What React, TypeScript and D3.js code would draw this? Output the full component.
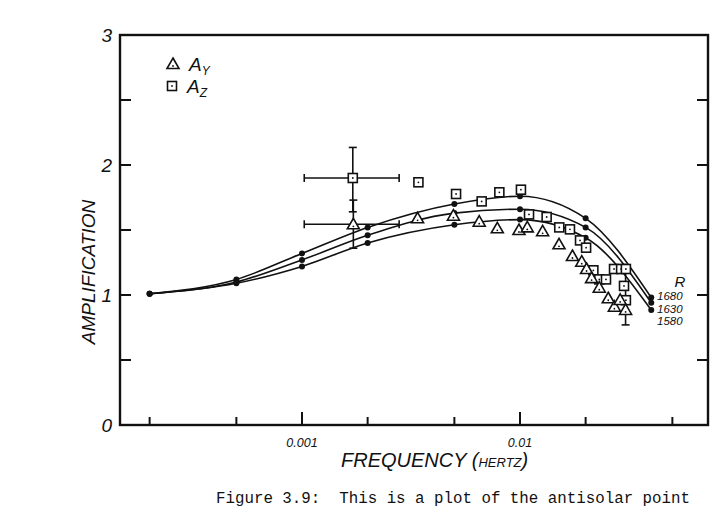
import * as d3 from 'd3';

// theory curves (dots joined by smooth lines), one per R value
const curveFreq = [0.0002, 0.0005, 0.001, 0.002, 0.005, 0.01, 0.02, 0.04];
const curve1680 = [1.01, 1.12, 1.32, 1.52, 1.70, 1.76, 1.59, 0.98];
const curve1630 = [1.01, 1.10, 1.27, 1.46, 1.63, 1.66, 1.52, 0.94];
const curve1580 = [1.01, 1.09, 1.22, 1.40, 1.54, 1.58, 1.44, 0.885];
const curveLabels = ['1680', '1630', '1580'];

// measured A_Y (triangles)
const ayFreq = [0.00172, 0.00339, 0.00495, 0.0065, 0.00787, 0.00989, 0.0108, 0.0127, 0.0151, 0.0174, 0.0192, 0.0202, 0.0213, 0.0231, 0.0254, 0.0271, 0.0288, 0.0305];
const ayVal = [1.544, 1.59, 1.61, 1.564, 1.513, 1.5, 1.52, 1.49, 1.39, 1.3, 1.256, 1.2, 1.13, 1.056, 0.975, 0.91, 0.962, 0.885];

// measured A_Z (squares)
const azFreq = [0.00171, 0.00342, 0.00509, 0.00667, 0.00804, 0.0101, 0.011, 0.01325, 0.01514, 0.01695, 0.01885, 0.0201, 0.0217, 0.0231, 0.0248, 0.027, 0.0291, 0.0306, 0.030, 0.0306];
const azVal = [1.9, 1.867, 1.777, 1.72, 1.79, 1.81, 1.62, 1.6, 1.52, 1.505, 1.42, 1.364, 1.19, 1.12, 1.12, 1.2, 1.2, 1.2, 1.07, 0.96];

// error bars: [freq, value, freqLo, freqHi, valLo, valHi]
const errorBars: number[][] = [
  [0.00171, 1.9, 0.001024, 0.00279, 1.64, 2.135],
  [0.00172, 1.544, 0.001024, 0.00279, 1.36, 1.73],
  [0.0305, 0.885, 0.0305, 0.0305, 0.77, 1.21],
];

const xMinorTicks = [0.0002, 0.0005, 0.002, 0.005, 0.02, 0.05];
const xMajorTicks = [0.001, 0.01];
const xTickLabels = ['0.001', '0.01'];
const yTicks = [0.5, 1, 1.5, 2, 2.5];
const yTickLabels = ['0', '1', '2', '3'];

const W = 723;
const H = 510;
const left = 120, right = 708, top = 35, bottom = 425;

const x = d3.scaleLog().domain([Math.pow(10, -3 - 182 / 218), Math.pow(10, -2 + 188 / 218)]).range([left, right]);
const y = d3.scaleLinear().domain([0, 3]).range([bottom, top]);

const hand = "'Liberation Sans', Arial, sans-serif";

const Triangle = ({ cx, cy }: { cx: number; cy: number }) => {
  const s = 6;
  const pts = `${cx},${cy - s} ${cx + s},${cy + s * 0.75} ${cx - s},${cy + s * 0.75}`;
  return (
    <g>
      <polygon points={pts} fill="#fff" stroke="#111" strokeWidth={1.6} strokeLinejoin="miter" />
      <circle cx={cx} cy={cy + 2} r={0.9} fill="#111" />
    </g>
  );
};

const Square = ({ cx, cy }: { cx: number; cy: number }) => (
  <g>
    <rect x={cx - 4.5} y={cy - 4.5} width={9} height={9} fill="#fff" stroke="#111" strokeWidth={1.6} />
    <circle cx={cx} cy={cy} r={0.9} fill="#111" />
  </g>
);

export default function App() {
  const line = d3
    .line<number>()
    .x((_, i) => x(curveFreq[i]))
    .y((d) => y(d))
    .curve(d3.curveMonotoneX);

  const curves = [curve1680, curve1630, curve1580];
  const cap = 4;

  return (
    <svg width={W} height={H} style={{ position: 'absolute', left: 0, top: 0, background: '#fff' }}>
      <rect x={0} y={0} width={W} height={H} fill="#fff" />

      {/* frame */}
      <rect x={left} y={top} width={right - left} height={bottom - top} fill="none" stroke="#111" strokeWidth={2.4} />

      {/* y ticks, both sides, pointing inward */}
      {yTicks.map((t) => (
        <g key={`yt${t}`} stroke="#111" strokeWidth={2}>
          <line x1={left} x2={left + 11} y1={y(t)} y2={y(t)} />
          <line x1={right} x2={right - 11} y1={y(t)} y2={y(t)} />
        </g>
      ))}
      {yTickLabels.map((l, i) => (
        <text key={`yl${l}`} x={left - 8} y={y(i) + 7} fontFamily={hand} fontStyle="italic" fontSize={19} textAnchor="end" fill="#111">
          {l}
        </text>
      ))}

      {/* x ticks */}
      {xMinorTicks.map((t) => (
        <line key={`xm${t}`} x1={x(t)} x2={x(t)} y1={bottom} y2={bottom - 8} stroke="#111" strokeWidth={2} />
      ))}
      {xMajorTicks.map((t, i) => (
        <g key={`xM${t}`}>
          <line x1={x(t)} x2={x(t)} y1={bottom} y2={bottom - 13} stroke="#111" strokeWidth={2} />
          <text x={x(t)} y={bottom + 22} fontFamily={hand} fontStyle="italic" fontSize={12.5} textAnchor="middle" fill="#111">
            {xTickLabels[i]}
          </text>
        </g>
      ))}

      {/* axis titles */}
      <text x={341} y={467} fontFamily={hand} fontStyle="italic" fontSize={20} fill="#111">
        FREQUENCY
        <tspan fontSize={20}> (</tspan>
        <tspan fontSize={13}>HERTZ</tspan>
        <tspan fontSize={20}>)</tspan>
      </text>
      <text
        transform="translate(95,272) rotate(-90)"
        fontFamily={hand}
        fontStyle="italic"
        fontSize={19}
        textAnchor="middle"
        fill="#111"
      >
        AMPLIFICATION
      </text>

      {/* theory curves */}
      {curves.map((c, k) => (
        <g key={`c${k}`}>
          <path d={line(c) || ''} fill="none" stroke="#111" strokeWidth={1.6} />
          {c.map((v, i) => (
            <circle key={i} cx={x(curveFreq[i])} cy={y(v)} r={3} fill="#111" />
          ))}
        </g>
      ))}
      <text x={680} y={287} fontFamily={hand} fontStyle="italic" fontSize={15} textAnchor="middle" fill="#111">
        R
      </text>
      {curveLabels.map((l, i) => (
        <text key={l} x={657} y={300 + i * 12.5} fontFamily={hand} fontStyle="italic" fontSize={11.5} fill="#111">
          {l}
        </text>
      ))}

      {/* error bars */}
      {errorBars.map((e, i) => {
        const px = x(e[0]);
        const py = y(e[1]);
        return (
          <g key={`e${i}`} stroke="#111" strokeWidth={1.6}>
            {e[2] !== e[3] && (
              <>
                <line x1={x(e[2])} x2={x(e[3])} y1={py} y2={py} />
                <line x1={x(e[2])} x2={x(e[2])} y1={py - cap} y2={py + cap} />
                <line x1={x(e[3])} x2={x(e[3])} y1={py - cap} y2={py + cap} />
              </>
            )}
            <line x1={px} x2={px} y1={y(e[4])} y2={y(e[5])} />
            <line x1={px - cap} x2={px + cap} y1={y(e[4])} y2={y(e[4])} />
            <line x1={px - cap} x2={px + cap} y1={y(e[5])} y2={y(e[5])} />
          </g>
        );
      })}

      {/* data points */}
      {azFreq.map((f, i) => (
        <Square key={`z${i}`} cx={x(f)} cy={y(azVal[i])} />
      ))}
      {ayFreq.map((f, i) => (
        <Triangle key={`y${i}`} cx={x(f)} cy={y(ayVal[i])} />
      ))}

      {/* legend */}
      <Triangle cx={173} cy={64} />
      <text x={189} y={71} fontFamily={hand} fontStyle="italic" fontSize={19} fill="#111">
        A<tspan fontSize={12} dy={4}>Y</tspan>
      </text>
      <Square cx={172} cy={86} />
      <text x={187} y={93} fontFamily={hand} fontStyle="italic" fontSize={19} fill="#111">
        A<tspan fontSize={12} dy={4}>Z</tspan>
      </text>

      {/* caption */}
      <text x={216} y={503} fontFamily="'Liberation Mono', 'Courier New', monospace" fontSize={15.8} fill="#111" xmlSpace="preserve">
        Figure 3.9:  This is a plot of the antisolar point
      </text>
    </svg>
  );
}
